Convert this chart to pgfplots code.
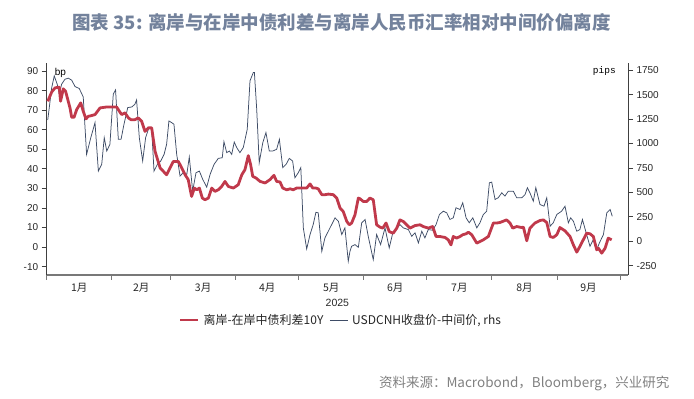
\documentclass[border=0pt]{standalone}
\usepackage{fontspec}
\setmainfont{Liberation Sans}
\newfontfamily\cjk{Noto Sans CJK SC}
\newfontfamily\monof{Liberation Mono}
\usepackage{pgfplots}
\pgfplotsset{compat=1.18}
\definecolor{redl}{RGB}{192,57,75}
\definecolor{bluel}{RGB}{62,76,102}
\definecolor{titlec}{RGB}{115,130,156}
\definecolor{axisc}{RGB}{64,64,64}
\definecolor{botc}{RGB}{120,120,120}
\definecolor{srcc}{RGB}{128,128,128}

\pgfplotstableread{
d v
0.5 74.6
2.4 79.4
4.0 81.5
6.0 81.8
6.6 74.6
7.9 81.0
9.0 79.7
11.1 71.2
11.9 66.4
13.0 66.4
14.3 70.4
16.2 73.8
17.4 69.5
18.7 65.6
19.8 66.9
21.4 67.3
23.0 67.8
25.4 71.2
28.6 71.7
33.3 71.7
34.6 69.5
35.7 67.8
37.3 68.7
38.9 66.1
40.1 65.2
42.0 65.2
43.6 66.1
45.2 64.4
46.8 59.2
48.4 61.0
50.0 61.0
51.6 49.0
54.0 40.5
57.1 37.0
58.7 40.5
60.3 43.8
62.7 43.8
64.3 40.5
65.9 37.0
67.4 34.5
69.0 25.9
70.3 30.2
71.4 29.3
72.7 30.2
74.1 25.1
75.4 24.2
77.0 25.1
78.6 30.2
80.1 28.5
81.7 29.3
83.3 31.0
84.9 33.6
86.5 31.0
88.9 30.2
91.2 31.9
92.9 37.0
94.4 39.6
96.0 46.8
97.1 42.2
98.1 36.2
99.7 35.3
101.6 33.6
104.0 32.8
106.3 34.5
108.2 36.7
109.5 33.6
111.1 33.3
112.4 30.2
114.3 29.3
115.9 29.8
117.4 29.3
119.0 30.2
122.2 30.2
123.8 30.2
125.4 32.3
126.7 30.2
128.2 30.2
129.3 29.8
131.0 26.8
132.5 26.8
134.1 27.1
136.5 26.8
138.1 25.1
139.7 19.9
141.2 18.2
142.9 13.1
144.1 11.4
145.2 12.3
146.8 16.5
148.4 25.1
149.2 24.7
150.8 23.3
152.4 23.3
153.9 25.1
155.5 24.2
157.1 11.4
158.7 10.2
160.0 9.7
161.6 12.3
163.1 7.9
165.0 7.1
166.7 9.7
168.2 13.9
169.8 13.1
171.4 11.4
173.0 9.7
175.4 11.0
177.8 11.4
179.3 10.5
181.7 9.7
183.8 10.5
185.4 5.4
187.3 5.4
189.7 4.9
191.2 3.7
192.5 1.1
193.6 5.4
195.2 4.6
196.8 5.4
198.1 6.3
199.7 6.8
200.8 7.6
202.4 6.3
204.8 2.0
206.3 2.8
207.9 3.7
210.3 5.4
212.7 12.3
214.3 12.3
215.9 12.6
219.0 13.9
220.6 12.3
221.9 9.7
223.8 10.5
226.2 10.0
227.0 10.2
228.6 3.2
230.1 9.7
232.5 12.3
234.9 13.6
236.5 13.9
238.1 12.6
239.7 5.4
241.2 4.9
242.9 6.3
244.4 10.0
246.8 8.3
249.2 5.4
250.8 1.1
252.4 -2.6
253.9 0.3
255.5 3.7
257.1 7.1
258.7 6.8
260.3 5.4
261.9 -1.4
262.7 -0.6
264.3 -3.1
265.9 -0.6
267.4 4.6
269.0 3.7
}\spread

\pgfplotstableread{
d p
0.5 1241
2.4 1573
3.6 1692
5.0 1607
6.0 1505
7.1 1607
8.7 1658
10.3 1669
11.9 1648
13.5 1583
15.5 1563
17.4 1477
19.0 889
21.0 1060
23.0 1214
24.6 718
26.2 787
27.4 1060
28.6 923
30.1 992
31.7 1505
32.8 1549
34.1 1043
35.4 1043
36.8 1197
38.6 1368
40.5 1374
42.0 1402
42.8 1446
44.1 1060
45.7 821
47.1 1060
48.7 1163
50.0 1146
51.1 718
52.7 787
54.3 821
55.9 889
57.1 992
58.2 1231
59.5 1214
60.6 1197
61.9 889
63.5 667
65.0 702
66.7 684
67.9 862
69.5 513
71.1 702
72.7 718
74.3 633
76.2 554
77.8 684
79.7 787
81.7 848
83.6 855
84.4 1019
85.7 907
87.0 923
88.1 889
89.3 1015
90.5 958
92.0 907
93.6 958
95.5 1146
96.8 1641
98.4 1727
98.9 1727
100.0 1351
101.2 804
102.9 1009
104.4 1112
106.0 923
107.6 923
109.5 941
110.8 1043
112.4 753
114.0 787
115.5 848
117.1 821
118.2 650
119.8 702
121.0 753
122.2 137
123.8 -78
125.4 69
126.9 171
128.2 297
129.3 291
131.0 -103
132.5 35
134.1 103
135.7 171
137.3 240
138.9 205
140.5 69
142.0 137
143.6 -205
144.4 -103
145.2 -51
146.8 -34
148.4 -62
150.0 189
151.6 223
153.1 51
155.5 -188
157.1 69
159.0 -34
161.1 137
163.1 -68
164.8 86
166.3 120
168.2 171
169.8 137
172.2 120
173.8 51
175.4 86
177.0 -16
178.6 103
180.1 35
181.7 120
183.8 113
185.4 171
187.0 274
188.9 308
190.5 291
192.0 223
193.6 240
194.9 343
196.8 325
198.1 394
199.7 240
201.2 189
202.9 240
204.8 137
206.3 189
207.9 274
209.5 308
210.8 599
211.9 605
213.5 428
215.0 445
216.7 496
218.2 462
219.8 513
222.2 513
223.8 445
226.2 445
227.8 479
228.9 548
230.1 496
231.7 410
232.9 548
234.9 376
236.8 359
238.1 445
239.7 154
241.2 189
242.9 274
245.2 308
246.8 359
248.4 189
249.5 240
250.8 205
252.4 103
253.9 120
255.1 223
257.1 69
258.7 -51
260.3 17
261.9 -85
263.2 -16
265.1 69
266.7 291
268.3 325
269.3 256
}\pips

\begin{document}
\begin{tikzpicture}
\useasboundingbox (0pt,0pt) rectangle (694pt,399pt);
\node[font=\cjk\bfseries\fontsize{18.5}{20}\selectfont, text=titlec] at (341.5pt,377pt) {图表 35: 离岸与在岸中债利差与离岸人民币汇率相对中间价偏离度};
\node[font=\cjk\fontsize{13.5}{15}\selectfont, text=srcc, anchor=east] at (673pt,16pt) {资料来源：Macrobond，Bloomberg，兴业研究};

% right axis (pips)
\begin{axis}[
  at={(46.7pt,157.72pt)}, anchor=origin, scale only axis,
  width=581.3pt, height=212pt,
  xmin=0, xmax=276.8, ymin=-345, ymax=1824,
  axis x line=none, axis y line*=right,
  ytick={-250,0,250,500,750,1000,1250,1500,1750},
  tick align=outside, major tick length=5pt,
  y axis line style={draw=axisc, line width=0.9pt},
  ytick style={draw=axisc, line width=0.9pt},
  yticklabel style={font=\fontsize{10}{12}\selectfont, text=black!85},
  /pgf/number format/assume math mode=true,
  /pgf/number format/1000 sep={},
  clip=false,
]
\addplot[bluel, line width=0.75pt] table[x=d, y=p] {\pips};
\node[anchor=east, font=\monof\fontsize{9.5}{11}\selectfont] at (rel axis cs:0.985,0.962) {pips};
\end{axis}

% left axis (bp)
\begin{axis}[
  at={(46.7pt,151.94pt)}, anchor=origin, scale only axis,
  width=581.3pt, height=212pt,
  xmin=0, xmax=276.8, ymin=-14.3, ymax=94.2,
  axis x line*=bottom, axis y line*=left,
  ytick={-10,0,10,20,30,40,50,60,70,80,90},
  xtick={0,31,59,90,120,151,181,212,243,273},
  x tick label as interval,
  xticklabels={1月,2月,3月,4月,5月,6月,7月,8月,9月},
  tick align=outside, major tick length=5pt,
  y axis line style={draw=axisc, line width=0.9pt},
  x axis line style={draw=botc, line width=1.6pt},
  ytick style={draw=axisc, line width=0.9pt},
  xtick style={draw=botc, line width=0.9pt},
  yticklabel style={font=\fontsize{10}{12}\selectfont, text=black!85},
  xticklabel style={font=\cjk\fontsize{10.5}{12}\selectfont, text=black!85},
  /pgf/number format/assume math mode=true,
  legend columns=2,
  legend style={draw=none, fill=none, at={(0.506,-0.212)}, anchor=center,
    font=\cjk\fontsize{12}{14}\selectfont, text=black!85,
    inner sep=0pt,
    /tikz/every odd column/.append style={column sep=2pt},
    /tikz/every even column/.append style={column sep=4pt}},
  legend image code/.code={\draw[#1] (0pt,0pt) -- (18pt,0pt);},
  clip=false,
]
\addplot[redl, line width=2.8pt, line join=round] table[x=d, y=v] {\spread};
\addlegendentry{离岸-在岸中债利差10Y}
\addlegendimage{bluel, line width=0.75pt}
\addlegendentry{USDCNH收盘价-中间价, rhs}
\node[anchor=west, font=\fontsize{10}{12}\selectfont] at (rel axis cs:0.008,0.955) {bp};
\node[font=\fontsize{10.5}{12}\selectfont, text=black!85] at (rel axis cs:0.5,-0.132) {2025};
\end{axis}
\end{tikzpicture}
\end{document}
